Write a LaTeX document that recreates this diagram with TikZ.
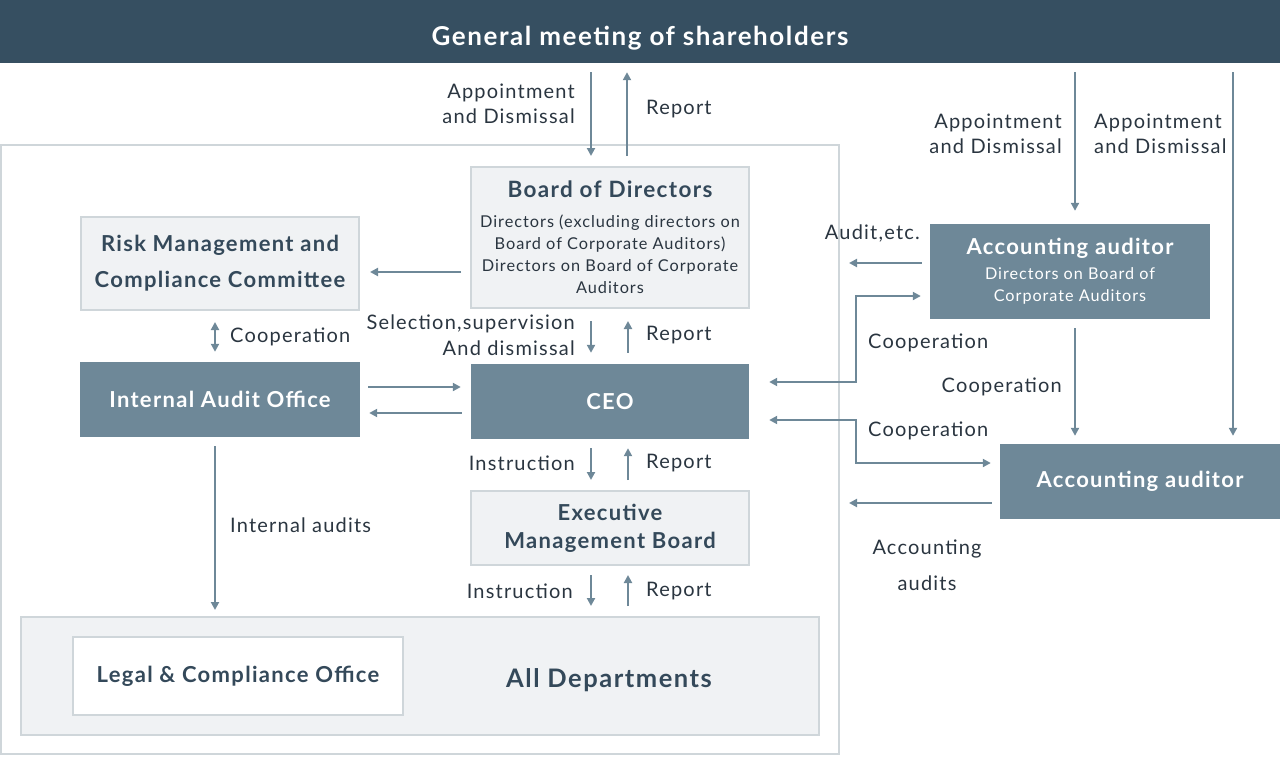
\documentclass[tikz,border=0pt]{standalone}
\usepackage{fontspec}
\setmainfont{Lato}[LetterSpace=6]
\usetikzlibrary{arrows.meta}
\definecolor{navy}{HTML}{364F61}
\definecolor{slate}{HTML}{6E8898}
\definecolor{pale}{HTML}{F0F2F4}
\definecolor{rim}{HTML}{CFD6DA}
\definecolor{ink}{HTML}{2A3540}
\definecolor{boxink}{HTML}{34495A}
\begin{document}
\begin{tikzpicture}[x=1pt,y=-1pt,
  lightbox/.style={rectangle, fill=pale, draw=rim, line width=2pt, text=boxink, align=center, inner sep=0pt},
  darkbox/.style={rectangle, fill=slate, draw=none, text=white, align=center, inner sep=0pt},
  boxfont/.style={font=\fontsize{22}{30}\selectfont\bfseries},
  lbl/.style={text=ink, font=\fontsize{20}{25.5}\selectfont, inner sep=0pt},
  arr/.style={draw=slate, line width=2pt, -{Triangle[length=8pt,width=8pt]}},
  both/.style={draw=slate, line width=2pt, {Triangle[length=8pt,width=8pt]}-{Triangle[length=8pt,width=8pt]}}]
\useasboundingbox (0,0) rectangle (1280,756);
\node [rectangle, fill=navy, minimum width=1280, minimum height=63, text height=30pt, text depth=3pt, text=white, font=\fontsize{26}{30}\selectfont\bfseries] (gm) at (640,31.5) {General meeting of shareholders};
\node [rectangle, draw=rim, line width=2pt, minimum width=838, minimum height=609] (frame) at (420,449.5) {};
\node [lightbox, minimum width=278, minimum height=141, text=ink, font=\fontsize{16.3}{22}\selectfont] (bod) at (610,237.5) {{\fontsize{22.5}{30}\selectfont\bfseries\color{boxink}Board of Directors}\\[8pt]
  Directors (excluding directors on\\Board of Corporate Auditors)\\Directors on Board of Corporate\\Auditors};
\node [lightbox, minimum width=278, minimum height=93, font=\fontsize{22}{36}\selectfont\bfseries] (risk) at (220,263.5) {Risk Management and\\Compliance Committee};
\node [darkbox, boxfont, minimum width=280, minimum height=75] (iao) at (220,399.5) {Internal Audit Office};
\node [darkbox, boxfont, minimum width=278, minimum height=75] (ceo) at (610,401.5) {CEO};
\node [lightbox, minimum width=278, minimum height=74, font=\fontsize{22}{28}\selectfont\bfseries] (emb) at (610,528) {Executive\\Management Board};
\node [lightbox, minimum width=798, minimum height=118] (dept) at (420,676) {};
\node [text=boxink, font=\fontsize{25.5}{30}\selectfont\bfseries] (deptlbl) at (609,680) {All Departments};
\node [lightbox, boxfont, fill=white, minimum width=330, minimum height=78] (legal) at (238,676) {Legal \& Compliance Office};
\node [darkbox, minimum width=280, minimum height=95, font=\fontsize{16.2}{22}\selectfont] (aa1) at (1070,271.5) {{\fontsize{22}{30}\selectfont\bfseries Accounting auditor}\\[3pt]
  Directors on Board of\\Corporate Auditors};
\node [darkbox, boxfont, minimum width=280, minimum height=75] (aa2) at (1140,481.5) {Accounting auditor};
% labels
\node [lbl, anchor=east, align=right] (appL) at (575,104) {Appointment\\and Dismissal};
\node [lbl, anchor=west] (repTop) at (646,109) {Report};
\node [lbl, anchor=east, align=right] (selL) at (575,335) {Selection,supervision\\And dismissal};
\node [lbl, anchor=west] (repBod) at (646,335) {Report};
\node [lbl, anchor=west] (coopRisk) at (230,337) {Cooperation};
\node [lbl, anchor=east] (insCeo) at (575,463) {Instruction};
\node [lbl, anchor=west] (repCeo) at (646,463) {Report};
\node [lbl, anchor=east] (insEmb) at (573,591) {Instruction};
\node [lbl, anchor=west] (repEmb) at (646,591) {Report};
\node [lbl, anchor=west] (intAud) at (230,525) {Internal audits};
\node [lbl, anchor=east, align=right] (appR1) at (1062,134) {Appointment\\and Dismissal};
\node [lbl, anchor=west, align=left] (appR2) at (1094,134) {Appointment\\and Dismissal};
\node [lbl, anchor=east] (auditEtc) at (920,233) {Audit,etc.};
\node [lbl, anchor=west] (coop1) at (868,343) {Cooperation};
\node [lbl, anchor=east] (coop2) at (1062,387) {Cooperation};
\node [lbl, anchor=west] (coop3) at (868,431) {Cooperation};
\node [lbl, align=center] (accAud) at (927,565) {Accounting\\[10.5pt]audits};
% connectors
\draw [arr, shorten <=9pt, shorten >=10pt] (gm.south -| 591,0) -- (bod.north -| 591,0);
\draw [arr, shorten <=10pt, shorten >=9pt] (bod.north -| 627,0) -- (gm.south -| 627,0);
\draw [arr, shorten <=9pt, shorten >=10pt] (bod.west |- 0,272) -- (risk.east |- 0,272);
\draw [both, shorten <=11pt, shorten >=10pt] (risk.south -| 215,0) -- (iao.north -| 215,0);
\draw [arr, shorten <=8pt, shorten >=10pt] (iao.east |- 0,387) -- (ceo.west |- 0,387);
\draw [arr, shorten <=9pt, shorten >=9pt] (ceo.west |- 0,413) -- (iao.east |- 0,413);
\draw [arr, shorten <=9pt, shorten >=6pt] (iao.south -| 215,0) -- (dept.north -| 215,0);
\draw [arr, shorten <=12pt, shorten >=11pt] (bod.south -| 591,0) -- (ceo.north -| 591,0);
\draw [arr, shorten <=11pt, shorten >=12pt] (ceo.north -| 628,0) -- (bod.south -| 628,0);
\draw [arr, shorten <=9pt, shorten >=10pt] (ceo.south -| 591,0) -- (emb.north -| 591,0);
\draw [arr, shorten <=10pt, shorten >=9pt] (emb.north -| 628,0) -- (ceo.south -| 628,0);
\draw [arr, shorten <=9pt, shorten >=10pt] (emb.south -| 591,0) -- (dept.north -| 591,0);
\draw [arr, shorten <=10pt, shorten >=9pt] (dept.north -| 628,0) -- (emb.south -| 628,0);
\draw [arr, shorten <=9pt, shorten >=13pt] (gm.south -| 1075,0) -- (aa1.north -| 1075,0);
\draw [arr, shorten <=9pt, shorten >=8pt] (gm.south -| 1233,0) -- (aa2.north -| 1233,0);
\draw [arr, shorten <=9pt, shorten >=8pt] (aa1.south -| 1075,0) -- (aa2.north -| 1075,0);
\draw [arr, shorten <=8pt, shorten >=9pt] (aa1.west |- 0,263) -- (frame.east |- 0,263);
\draw [both, shorten <=9pt, shorten >=20pt] (aa1.west |- 0,296) -| (856,382) -- (ceo.east |- 0,382);
\draw [both, shorten <=9pt, shorten >=20pt] (aa2.west |- 0,463) -| (856,420) -- (ceo.east |- 0,420);
\draw [arr, shorten <=8pt, shorten >=9pt] (aa2.west |- 0,503) -- (frame.east |- 0,503);
\end{tikzpicture}
\end{document}
